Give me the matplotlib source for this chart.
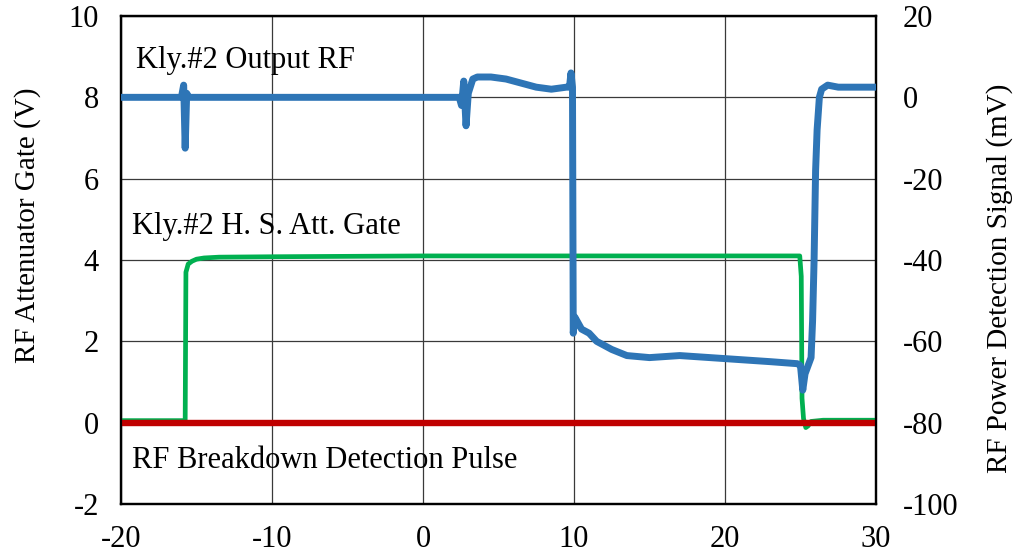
import matplotlib
matplotlib.use("Agg")
import matplotlib.pyplot as plt

# ---- data ----
# Kly.#2 Output RF, right axis (mV)
rf_x = [-20, -16.0, -15.85, -15.75, -15.65, -15.5, 2.4, 2.55, 2.7, 2.85, 3.0, 3.3, 3.6, 4.5, 5.5, 6.5, 7.5, 8.5, 9.5, 9.7, 9.8,
        9.9, 9.95, 10.05, 10.2, 10.5, 11.0, 11.5, 12.5, 13.5, 15, 17, 19, 21, 23, 24.8, 25.0, 25.15, 25.3, 25.5, 25.7, 25.8,
        25.9, 26.0, 26.1, 26.25, 26.4, 26.8, 27.5, 28.5, 30]
rf_y = [0, 0, 3, -12.5, 1, 0, 0, -2, 4, -7, 1, 4.5, 5, 5, 4.5, 3.5, 2.5, 2, 2.5, 2.5, 6,
        2.5, -58, -54, -55, -57, -58, -60, -62, -63.5, -64, -63.5, -64, -64.5, -65, -65.5, -66, -72, -68, -66, -64, -55,
        -40, -18, -8, 0, 2, 3, 2.5, 2.5, 2.5]

# Kly.#2 H. S. Att. Gate, left axis (V)
gate_x = [-20, -15.75, -15.7, -15.55, -15.3, -15.0, -14.5, -13.5, -10, 0, 10, 20, 24.95, 25.05, 25.1, 25.2, 25.35, 25.5, 25.7, 26.5, 30]
gate_y = [0.05, 0.05, 3.7, 3.9, 3.97, 4.02, 4.05, 4.07, 4.08, 4.1, 4.1, 4.1, 4.1, 3.6, 0.6, 0.1, -0.12, -0.08, 0.03, 0.06, 0.06]

# RF Breakdown Detection Pulse, left axis (V)
pulse_x = [-20, 30]
pulse_y = [0, 0]

x_ticks = [-20, -10, 0, 10, 20, 30]
left_ticks = [-2, 0, 2, 4, 6, 8, 10]
right_ticks = [-100, -80, -60, -40, -20, 0, 20]

labels = {"rf": "Kly.#2 Output RF", "gate": "Kly.#2 H. S. Att. Gate", "pulse": "RF Breakdown Detection Pulse"}

BLUE = "#2E75B6"
GREEN = "#00B050"
RED = "#C00000"

plt.rcParams["font.family"] = ["Liberation Serif", "DejaVu Serif"]
plt.rcParams["axes.unicode_minus"] = False

fig = plt.figure(figsize=(10.24, 5.56), dpi=100)
ax = fig.add_axes([121/1024, 1 - 504/556, (876-121)/1024, (504-16)/556])
ax.set_xlim(-20, 30)
ax.set_ylim(-2, 10)
ax.set_xticks(x_ticks)
ax.set_yticks(left_ticks)
ax.grid(True, color="#3a3a3a", linewidth=0.9)
ax.set_axisbelow(True)
ax.tick_params(length=0, labelsize=22)
ax.tick_params(axis="y", pad=16)
ax.tick_params(axis="x", pad=15)
for s in ax.spines.values():
    s.set_linewidth(1.6)
    s.set_color("black")

ax.plot(gate_x, gate_y, color=GREEN, lw=3.4, solid_joinstyle="round", zorder=3)
ax.plot(pulse_x, pulse_y, color=RED, lw=4.6, zorder=4)

ax2 = ax.twinx()
ax2.set_ylim(-100, 20)
ax2.set_yticks(right_ticks)
ax2.tick_params(length=0, labelsize=22, pad=19)
for s in ax2.spines.values():
    s.set_linewidth(1.6)
    s.set_color("black")
ax2.plot(rf_x, rf_y, color=BLUE, lw=5, solid_joinstyle="round", zorder=5)

ax.text(-19.0, 8.9, labels["rf"], fontsize=22, ha="left", va="center")
ax.text(-19.3, 4.83, labels["gate"], fontsize=22, ha="left", va="center")
ax.text(-19.3, -0.92, labels["pulse"], fontsize=22, ha="left", va="center")

fig.text(28/1024, 1 - 225/556, "RF Attenuator Gate (V)", rotation=90, fontsize=21, ha="center", va="center")
fig.text(1000/1024, 1 - 278/556, "RF Power Detection Signal (mV)", rotation=90, fontsize=21, ha="center", va="center")

fig.savefig("out.png", dpi=100)
